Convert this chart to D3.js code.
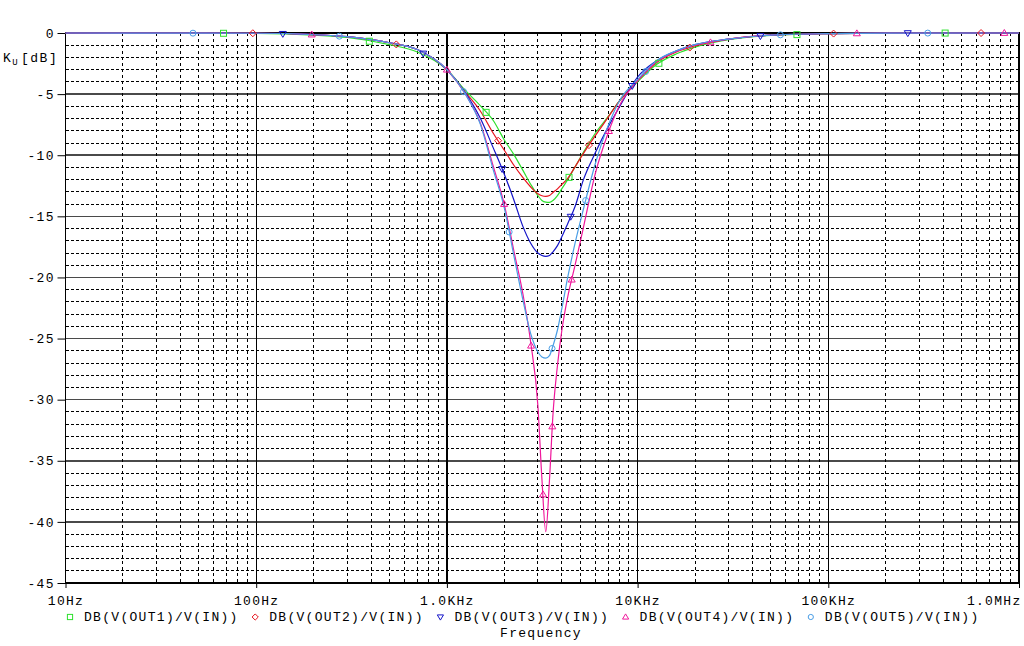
<!DOCTYPE html>
<html><head><meta charset="utf-8">
<script src="https://cdn.jsdelivr.net/npm/d3@7"></script>
<style>
body{margin:0;background:#fff}
svg{display:block}
text{font-family:"Liberation Mono","DejaVu Sans Mono",monospace;fill:#000}
</style>
</head><body>
<svg id="c" width="1024" height="646"></svg>
<script>
// ---- data ----
const freqs = [10, 30, 100, 200, 300, 500, 700, 1000, 1250, 1500, 1750, 2000, 2250, 2500, 2750, 3000, 3150, 3300, 3450, 3600, 3800, 4000, 4300, 4700, 5200, 6000, 7000, 8000, 10000, 12500, 16000, 20000, 30000, 50000, 100000, 200000, 1000000];
const out1 = [0,-0.01,-0.03,-0.17,-0.37,-0.95,-1.55,-3.0,-4.7,-5.96, -7.16,-8.75,-9.97,-11.22,-12.37,-13.3,-13.7,-13.83,-13.85,-13.7, -13.3,-12.75,-12.0,-10.95,-9.76,-8.2,-6.85,-5.6,-4.0,-2.6, -1.7,-1.15,-0.55,-0.2,-0.05,-0.01,0];
const out2 = [0,-0.01,-0.02,-0.13,-0.3,-0.8,-1.35,-3.0,-4.85,-6.4, -8.2,-9.59,-10.84,-11.82,-12.6,-13.15,-13.32,-13.37,-13.3,-13.05, -12.75,-12.4,-11.9,-10.95,-9.85,-8.4,-6.9,-5.6,-3.9,-2.45, -1.55,-1.05,-0.5,-0.18,-0.05,-0.01,0];
const out3 = [0,-0.01,-0.02,-0.13,-0.3,-0.8,-1.35,-3.0,-4.9,-7.0, -9.4,-11.55,-13.7,-15.8,-17.2,-18.0,-18.2,-18.27,-18.2,-17.9, -17.4,-16.7,-15.6,-14.2,-12.0,-9.8,-7.7,-6.1,-3.6,-2.3, -1.45,-0.95,-0.5,-0.17,-0.05,-0.01,0];
const out4 = [0,-0.01,-0.02,-0.13,-0.3,-0.8,-1.35,-3.0,-5.0,-7.4, -10.9,-14.05,-17.9,-21.3,-25.3,-30.5,-36.5,-40.8,-36.6,-31.2, -27.2,-24.4,-21.6,-19.0,-15.9,-11.5,-8.2,-6.0,-3.9,-2.4, -1.5,-1.0,-0.5,-0.17,-0.05,-0.01,0];
const out5 = [0,-0.01,-0.02,-0.13,-0.3,-0.8,-1.35,-3.0,-5.0,-7.5, -11.2,-14.3,-18.3,-21.8,-24.6,-26.1,-26.5,-26.6,-26.4,-25.6, -24.3,-22.6,-20.0,-17.2,-14.4,-10.7,-7.6,-5.6,-3.8,-2.3, -1.45,-0.95,-0.5,-0.17,-0.05,-0.01,0];

// marker frequencies along each trace
const mk1 = [67.4, 392, 1606, 4369, 12929, 68480, 409900];
const mk2 = [96, 542.8, 1856, 5559, 18780, 106600, 632400];
const mk3 = [137.9, 751.5, 1948, 4459, 9370, 44055, 261100];
const mk4 = [195.5, 1000, 1995, 2763, 3193, 3572, 4514, 7074, 24110, 141150, 837500];
const mk5 = [46.6, 273, 1222, 2120, 3559, 5342, 11016, 56090, 332300];

const seriesNames = ["DB(V(OUT1)/V(IN))","DB(V(OUT2)/V(IN))","DB(V(OUT3)/V(IN))","DB(V(OUT4)/V(IN))","DB(V(OUT5)/V(IN))"];
const colors = ["#2ee02e","#e8141e","#1414c8","#f0189c","#4a9ee6"];
const shapes = ["square","diamond","tridown","triup","circle"];

const yTicks = [0,-5,-10,-15,-20,-25,-30,-35,-40,-45];
const xTicks = [10,100,1000,10000,100000,1000000];
const xTickLabels = ["10Hz","100Hz","1.0KHz","10KHz","100KHz","1.0MHz"];

// ---- drawing ----
const svg = d3.select("#c");
const x = d3.scaleLog().domain([10,1e6]).range([65.5,1019]);
const y = d3.scaleLinear().domain([-45,0]).range([583,33]);
const TS = "letter-spacing:1.3px";

const g = svg.append("g");
// horizontal grid
for (let v=-44; v<=-1; v++) {
  const major = v%5===0;
  g.append("line").attr("x1",x(10)).attr("x2",x(1e6)).attr("y1",y(v)).attr("y2",y(v))
   .attr("stroke", major?"#4a4a4a":"#000").attr("stroke-width", major?1.6:1)
   .attr("stroke-dasharray", major?null:"3,2").attr("shape-rendering","crispEdges");
}
// vertical grid
for (let d=10; d<1e6; d*=10) {
  for (let k=1;k<=9;k++) {
    const f=d*k;
    if (f<=10) continue;
    const major = k===1;
    g.append("line").attr("x1",x(f)).attr("x2",x(f)).attr("y1",y(0)).attr("y2",y(-45))
     .attr("stroke","#000").attr("stroke-width", major?1.2:1)
     .attr("stroke-dasharray", major?null:"3,3").attr("shape-rendering","crispEdges");
  }
}
// frame
g.append("rect").attr("x",x(10)).attr("y",y(0)).attr("width",x(1e6)-x(10)).attr("height",y(-45)-y(0))
 .attr("fill","none").attr("stroke","#000").attr("stroke-width",1.3).attr("shape-rendering","crispEdges");

// axes
const ya = svg.append("g").attr("transform",`translate(${x(10)},0)`)
  .call(d3.axisLeft(y).tickValues(yTicks).tickSize(8).tickPadding(4).tickFormat(d=>String(d)));
ya.select(".domain").remove();
ya.selectAll("text").attr("font-size",13).attr("font-family",null).attr("style",TS).attr("dx",1.3);
ya.selectAll("line").attr("stroke","#000");

const xa = svg.append("g").attr("transform",`translate(0,${y(-45)})`)
  .call(d3.axisBottom(x).tickValues(xTicks).tickSize(5).tickPadding(8).tickFormat((d,i)=>xTickLabels[i]));
xa.select(".domain").remove();
xa.selectAll("text").attr("font-size",13).attr("font-family",null).attr("style",TS);
xa.selectAll(".tick").filter(d=>d===1e6).select("text").attr("text-anchor","end").attr("dx",2);
xa.selectAll("line").attr("stroke","#000");

// y title
const yt = svg.append("text").attr("x",3).attr("y",62).attr("font-size",13).attr("style","letter-spacing:1.5px");
yt.append("tspan").text("K");
yt.append("tspan").attr("font-size",9).attr("dy",3).text("U");
yt.append("tspan").attr("x",21).attr("dy",-3).text("[dB]");

// x title
svg.append("text").attr("x",541).attr("y",637).attr("text-anchor","middle").attr("font-size",13).attr("style",TS).text("Frequency");

// traces
const data = [out1,out2,out3,out4,out5];
const marks = [mk1,mk2,mk3,mk4,mk5];
const line = d3.line().x(d=>x(d[0])).y(d=>y(d[1])).curve(d3.curveMonotoneX);
const lf = freqs.map(f=>Math.log10(f));
function interp(vals,f){
  const l=Math.log10(f);
  for(let i=0;i<lf.length-1;i++){
    if(l>=lf[i]&&l<=lf[i+1]){const t=(l-lf[i])/(lf[i+1]-lf[i]);return vals[i]+t*(vals[i+1]-vals[i]);}
  }
  return vals[vals.length-1];
}
function symbol(sel,shape,cx,cy,col,s){
  if(shape==="square") sel.append("rect").attr("x",cx-s).attr("y",cy-s).attr("width",2*s).attr("height",2*s);
  else if(shape==="circle") sel.append("circle").attr("cx",cx).attr("cy",cy).attr("r",s);
  else {
    let p;
    if(shape==="diamond") p=[[cx,cy-s-0.5],[cx+s+0.5,cy],[cx,cy+s+0.5],[cx-s-0.5,cy]];
    else if(shape==="triup") p=[[cx,cy-s-0.5],[cx+s+0.5,cy+s*0.8],[cx-s-0.5,cy+s*0.8]];
    else p=[[cx,cy+s+0.5],[cx+s+0.5,cy-s*0.8],[cx-s-0.5,cy-s*0.8]];
    sel.append("polygon").attr("points",p.map(q=>q.join(",")).join(" "));
  }
  sel.selectAll("*").attr("fill","none").attr("stroke",col).attr("stroke-width",1);
}
data.forEach((vals,i)=>{
  const pts = freqs.map((f,j)=>[f,vals[j]]);
  svg.append("path").datum(pts).attr("d",line).attr("fill","none")
    .attr("stroke",colors[i]).attr("stroke-width",1.2);
});
data.forEach((vals,i)=>{
  marks[i].forEach(f=>{
    const mg = svg.append("g");
    symbol(mg,shapes[i],x(f),y(interp(vals,f)),colors[i],3);
  });
});

// legend
seriesNames.forEach((n,i)=>{
  const lx = 70 + i*185.2;
  const mg = svg.append("g");
  symbol(mg,shapes[i],lx,617,colors[i],2.6);
  svg.append("text").attr("x",lx+14).attr("y",621).attr("font-size",13).attr("style",TS).text(n);
});
</script>
</body></html>
